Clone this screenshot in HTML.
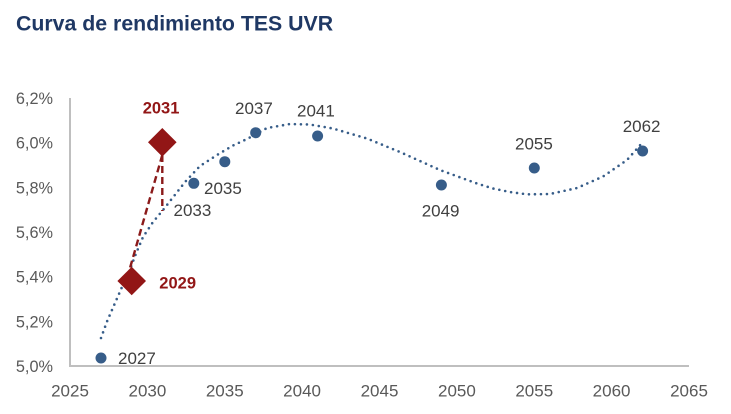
<!DOCTYPE html>
<html>
<head>
<meta charset="utf-8">
<style>
  html, body { margin: 0; padding: 0; background: #ffffff; }
  body { width: 731px; height: 414px; overflow: hidden; }
  svg { display: block; }
  .t { font-family: "Liberation Sans", sans-serif; }
</style>
</head>
<body>
<svg width="731" height="414" viewBox="0 0 731 414" xmlns="http://www.w3.org/2000/svg">
  <rect width="731" height="414" fill="#ffffff"/>
  <!-- Title -->
  <text class="t" x="16" y="30.5" font-size="21.3" font-weight="bold" fill="#1F3864">Curva de rendimiento TES UVR</text>

  <!-- Axes -->
  <line x1="70" y1="98" x2="70" y2="367" stroke="#BFBFBF" stroke-width="2"/>
  <line x1="69" y1="366" x2="689" y2="366" stroke="#BFBFBF" stroke-width="2"/>

  <!-- Y tick labels -->
  <g class="t" font-size="16.3" fill="#595959" text-anchor="end">
    <text x="53" y="104">6,2%</text>
    <text x="53" y="148.6">6,0%</text>
    <text x="53" y="193.3">5,8%</text>
    <text x="53" y="238">5,6%</text>
    <text x="53" y="282.6">5,4%</text>
    <text x="53" y="327.3">5,2%</text>
    <text x="53" y="372">5,0%</text>
  </g>

  <!-- X tick labels -->
  <g class="t" font-size="17" fill="#595959" text-anchor="middle">
    <text x="70" y="396.5">2025</text>
    <text x="147.4" y="396.5">2030</text>
    <text x="224.75" y="396.5">2035</text>
    <text x="302.1" y="396.5">2040</text>
    <text x="379.5" y="396.5">2045</text>
    <text x="456.9" y="396.5">2050</text>
    <text x="534.25" y="396.5">2055</text>
    <text x="611.6" y="396.5">2060</text>
    <text x="689" y="396.5">2065</text>
  </g>

  <!-- Trend line (dotted) -->
  <polyline fill="none" stroke="#375D89" stroke-width="2.6" stroke-linecap="round" stroke-linejoin="round" stroke-dasharray="0 6"
    points="101,338 107,321.5 115,303 122,287 129,272 136,253.5 143,237 153,222 163,210 176,193.5 185,182 200,166 217,155 233,145.5 247,139 267,128 290,124 310,124.5 333,128.5 367,138.5 400,152 440,170 477,183.5 493,188.5 510,192 527,194.3 550,194 577,188 603,176.5 627,160 642,143"/>

  <!-- Red dashed lines -->
  <line x1="162.3" y1="155" x2="130" y2="268" stroke="#8B1A1A" stroke-width="2.4" stroke-dasharray="7 4"/>
  <line x1="162.3" y1="155" x2="162.3" y2="211" stroke="#8B1A1A" stroke-width="2.4" stroke-dasharray="7 4"/>

  <!-- Data points -->
  <g fill="#375D89">
    <circle cx="101" cy="358" r="5.5"/>
    <circle cx="193.8" cy="183.3" r="5.5"/>
    <circle cx="224.8" cy="161.7" r="5.5"/>
    <circle cx="255.7" cy="132.7" r="5.5"/>
    <circle cx="317.6" cy="136" r="5.5"/>
    <circle cx="441.4" cy="185" r="5.5"/>
    <circle cx="534.3" cy="168" r="5.5"/>
    <circle cx="642.6" cy="151" r="5.5"/>
  </g>

  <!-- Diamonds -->
  <g fill="#921616">
    <polygon points="162.3,128 176.6,142.3 162.3,156.6 148,142.3"/>
    <polygon points="131.7,266.8 146,281 131.7,295.2 117.4,281"/>
  </g>

  <!-- Data labels -->
  <g class="t" font-size="17" fill="#404040">
    <text x="118" y="364">2027</text>
    <text x="173.5" y="216">2033</text>
    <text x="204" y="194">2035</text>
    <text x="235" y="114">2037</text>
    <text x="297" y="116.7">2041</text>
    <text x="421.7" y="216.7">2049</text>
    <text x="515" y="149.3">2055</text>
    <text x="622.7" y="132">2062</text>
  </g>
  <g class="t" font-size="16.5" font-weight="bold" fill="#921616">
    <text x="142.7" y="113.3">2031</text>
    <text x="159.3" y="288.3">2029</text>
  </g>
</svg>
</body>
</html>
